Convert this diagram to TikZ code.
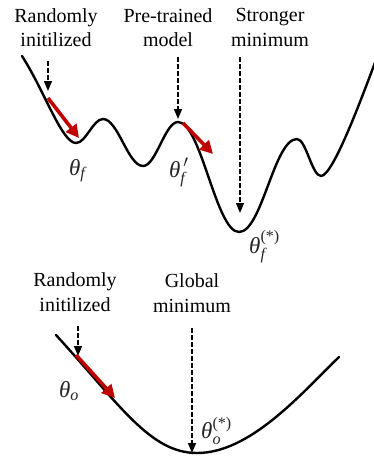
\documentclass[tikz,border=0pt]{standalone}
\usepackage{amsmath}
\usepackage{fontspec}
\setmainfont{Liberation Serif}
\usetikzlibrary{arrows.meta}
\definecolor{gradred}{HTML}{C00000}
\newcommand{\thet}{\textit{θ}}
\begin{document}
\begin{tikzpicture}[x=1pt,y=-1pt,
  curve/.style={line width=2.4pt,line cap=round,line join=round},
  pointer/.style={line width=1.3pt,dash pattern=on 4.5pt off 2.5pt,-{Triangle[length=10pt,width=8pt]}},
  gradarrow/.style={line width=3.6pt,gradred,-{Triangle[length=13pt,width=13pt]}},
  lbl/.style={font=\rmfamily\fontsize{20}{24.5}\selectfont,align=center,inner sep=0pt},
  sym/.style={font=\rmfamily\fontsize{23}{26}\selectfont,inner sep=0pt,anchor=base west,text=black!85}]
\useasboundingbox (0,0) rectangle (374,458);
% top landscape
\draw[curve] (22,56) .. controls (45,92) and (62,143) .. (76,143)
  .. controls (86,143) and (93,119) .. (103,119)
  .. controls (118,119) and (128,166) .. (143,166)
  .. controls (156,166) and (165,122) .. (178,122)
  .. controls (201,122) and (216,232) .. (239,232)
  .. controls (262,232) and (274,139) .. (297,139)
  .. controls (306,139) and (312,176) .. (321,176)
  .. controls (333,176) and (362,97) .. (376,60);
% bottom bowl
\draw[curve] (56,335) .. controls (120,405) and (150,453) .. (197,453)
  .. controls (250,453) and (300,395) .. (339,357);
% labels top
\node[lbl] (r1) at (56,27.5) {Randomly\\initilized};
\node[lbl] (pt) at (168,27.5) {Pre-trained\\model};
\node[lbl] (sm) at (270,27.5) {Stronger\\minimum};
% labels bottom
\node[lbl] (r2) at (75,292) {Randomly\\initilized};
\node[lbl] (gm) at (192,293) {Global\\minimum};
% coordinates
\coordinate (a1s) at (48,61);   \coordinate (a1e) at (48,91);
\coordinate (a2s) at (178,57);  \coordinate (a2e) at (178,119);
\coordinate (a3s) at (240,57);  \coordinate (a3e) at (240,213);
\coordinate (b1s) at (78,326);  \coordinate (b1e) at (78,356);
\coordinate (b2s) at (192,328); \coordinate (b2e) at (192,453);
\coordinate (g1s) at (48,98);   \coordinate (g1e) at (79,138);
\coordinate (g2s) at (183,123); \coordinate (g2e) at (213,154);
\coordinate (g3s) at (76,355);  \coordinate (g3e) at (115,398);
% dashed pointers
\draw[pointer] (a1s) -- (a1e);
\draw[pointer] (a2s) -- (a2e);
\draw[pointer] (a3s) -- (a3e);
\draw[pointer] (b1s) -- (b1e);
\draw[pointer] (b2s) -- (b2e);
% red gradient arrows
\draw[gradarrow] (g1s) -- (g1e);
\draw[gradarrow] (g2s) -- (g2e);
\draw[gradarrow] (g3s) -- (g3e);
% theta labels
\node[sym] (tf) at (69,175) {$\thet_{\textit{f}}$};
\node[sym] (tfp) at (169,177) {$\thet^{\,\prime}_{\textit{f}}$};
\node[sym] (tfs) at (249,253) {$\thet^{\textrm{(*)}}_{\textit{f}}$};
\node[sym] (to) at (59,397) {$\thet_{\textit{o}}$};
\node[sym] (tos) at (201,438) {$\thet^{\textrm{(*)}}_{\textit{o}}$};
\end{tikzpicture}
\end{document}
